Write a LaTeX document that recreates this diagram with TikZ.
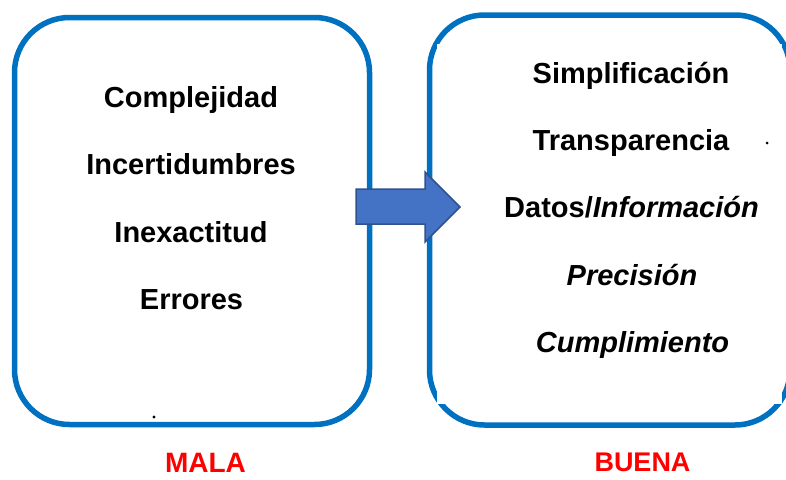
\documentclass[tikz,border=0pt]{standalone}
\usepackage{fontspec}
\setmainfont{Liberation Sans}
\begin{document}
\begin{tikzpicture}[x=1pt,y=-1pt,
  panel/.style={draw=boxblue,line width=5.5pt,rounded corners=55pt},
  item/.style={anchor=base,inner sep=0pt,font=\fontsize{29}{34}\selectfont\bfseries},
  tag/.style={anchor=base,inner sep=0pt,text=red,font=\fontsize{28}{33}\selectfont\bfseries},
  blockarrow/.style={fill=arrowfill,draw=arrowline,line width=1.5pt,line join=miter}]
\definecolor{boxblue}{HTML}{0070C0}
\definecolor{arrowfill}{HTML}{4472C4}
\definecolor{arrowline}{HTML}{2F528F}
\useasboundingbox (0,0) rectangle (786,479);
\begin{scope}
\clip (0,0) rectangle (786,479);
% boxes
\draw[panel] (14.5,17.5) rectangle (369.5,424.5);
\draw[panel] (429.5,15) rectangle (790,425);
\fill[white] (437,44) rectangle (782,404);
\end{scope}
% left texts
\node[item] (l1) at (191,107) {Complejidad};
\node[item] (l2) at (191,174) {Incertidumbres};
\node[item] (l3) at (191,242) {Inexactitud};
\node[item] (l4) at (191.5,309) {Errores};
\fill (154,417) circle (1.7pt);
% right texts
\node[item] (r1) at (631,83) {Simplificación};
\node[item] (r2) at (631,150) {Transparencia};
\node[item] (r3) at (631.5,217) {Datos/\textit{Información}};
\node[item] (r4) at (632,285) {\textit{Precisión}};
\node[item] (r5) at (632.5,352) {\textit{Cumplimiento}};
\fill (767,143) circle (1.5pt);
% arrow
\draw[blockarrow] (356,189) -- (425,189) -- (425,172) -- (460,207) -- (425,242) -- (425,224) -- (356,224) -- cycle;
% labels
\node[tag] (mala) at (205.5,472) {MALA};
\node[tag,font=\fontsize{27}{32}\selectfont\bfseries] (buena) at (642.5,471) {BUENA};
\end{tikzpicture}
\end{document}
